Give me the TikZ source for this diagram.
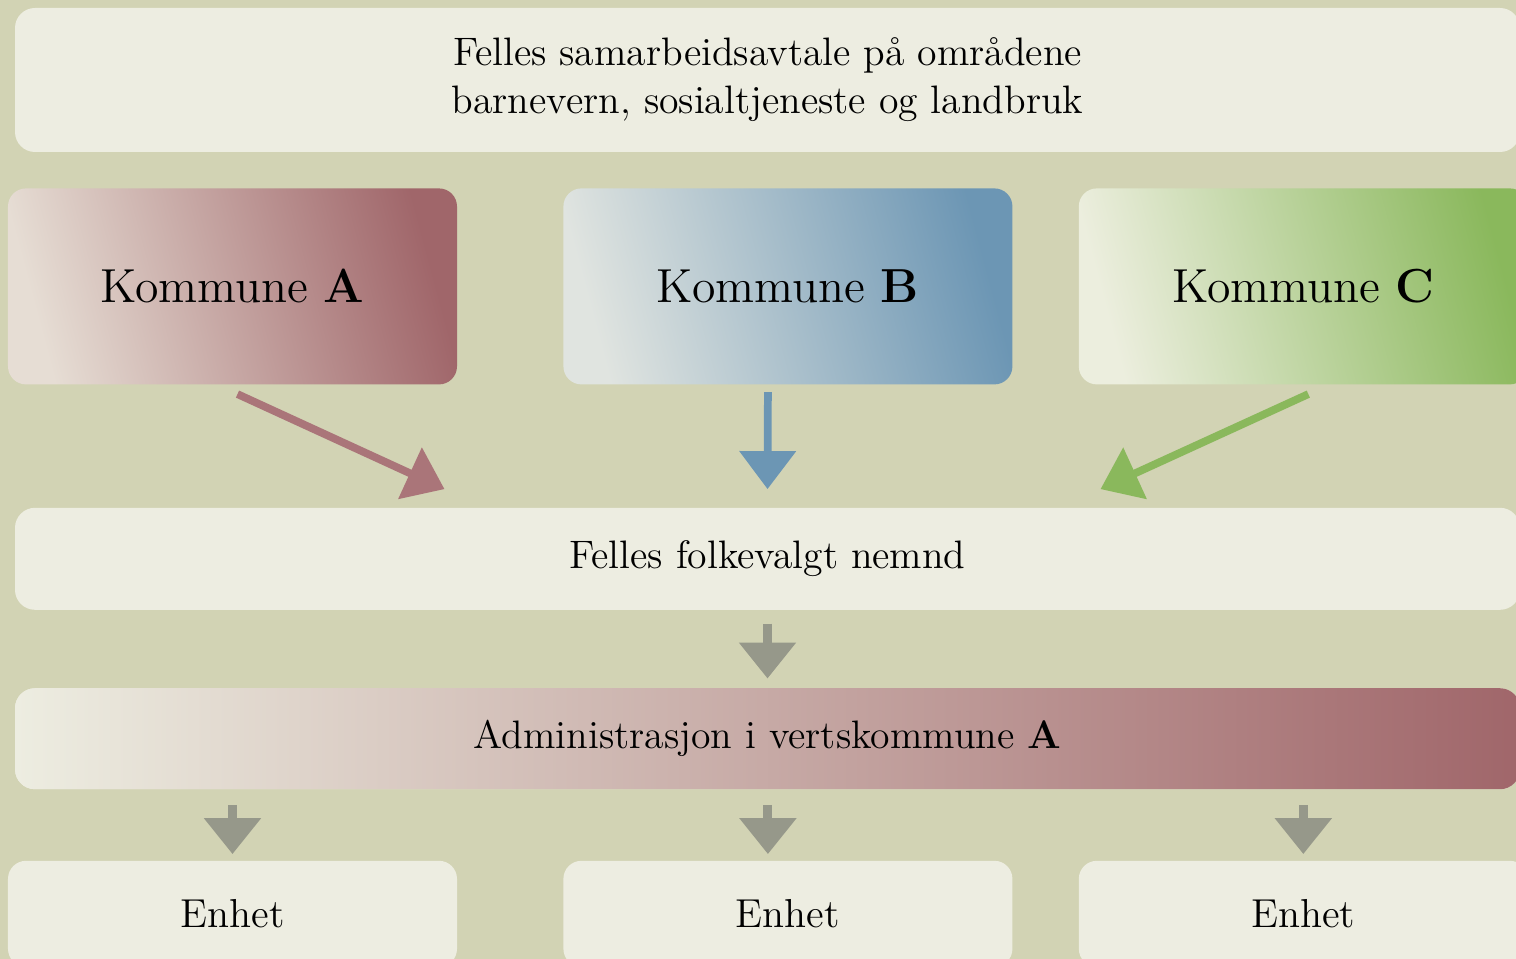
\documentclass[tikz,border=0pt]{standalone}
\usepackage{tikz}
\usetikzlibrary{arrows.meta,positioning,calc}
\definecolor{kpaper}{RGB}{210,211,180}
\definecolor{kcream}{RGB}{237,237,225}
\definecolor{kred}{RGB}{160,102,106}
\definecolor{kredlight}{RGB}{230,221,212}
\definecolor{kblue}{RGB}{108,150,180}
\definecolor{kbluelight}{RGB}{224,228,224}
\definecolor{kgreen}{RGB}{138,184,92}
\definecolor{kgreenlight}{RGB}{236,238,222}
\definecolor{kgrey}{RGB}{150,152,138}
\tikzstyle{bar} = [rectangle, rounded corners=0.2cm, minimum width=15.05cm, text centered, fill=kcream, font=\fontsize{11.3}{13.7}\selectfont]
\tikzstyle{kbox} = [rectangle, rounded corners=0.18cm, minimum width=4.49cm, minimum height=1.96cm, text centered, font=\fontsize{13.6}{16}\selectfont]
\tikzstyle{ebox} = [rectangle, rounded corners=0.18cm, minimum width=4.49cm, minimum height=1.06cm, text centered, fill=kcream, font=\fontsize{11.5}{13.7}\selectfont]
\tikzstyle{pil} = [line width=2.2pt, -{Triangle[width=0.55cm,length=0.38cm]}]
\tikzstyle{pilgrey} = [line width=2.6pt, color=kgrey, -{Triangle[width=0.55cm,length=0.36cm]}]

\begin{document}
\begin{tikzpicture}[node distance=0.5cm]
\useasboundingbox (0,0) rectangle (15.16,-9.59);
\clip (0,0) rectangle (15.16,-9.59);
\fill[kpaper] (0,0) rectangle (15.16,-9.59);

% Avtale
\node[bar, minimum height=1.44cm, align=center] (avtale) at (7.675,-0.80) {
Felles samarbeidsavtale på områdene\\
barnevern, sosialtjeneste og landbruk
};

% Kommuner
\node[kbox, left color=kredlight, right color=kred, shading angle=105, below right=0.35cm and -0.07cm of avtale.south west] (kA) {Kommune \textbf{A}};
\node[kbox, left color=kbluelight, right color=kblue, shading angle=105, right=1.05cm of kA] (kB) {Kommune \textbf{B}};
\node[kbox, left color=kgreenlight, right color=kgreen, shading angle=105, right=0.65cm of kB] (kC) {Kommune \textbf{C}};

% Nemnd og administrasjon
\node[bar, minimum height=1.02cm, below right=1.22cm and 0.07cm of kA.south west] (nemnd) {Felles folkevalgt nemnd};
\node[bar, minimum height=1.01cm, left color=kcream, right color=kred, below=0.77cm of nemnd] (admin) {Administrasjon i vertskommune \textbf{A}};

% Enheter
\node[ebox, below=4.75cm of kA] (eA) {Enhet};
\node[ebox, below=4.75cm of kB] (eB) {Enhet};
\node[ebox, below=4.75cm of kC] (eC) {Enhet};

\draw[pil, color=kred!90!white] ([xshift=0.05cm,yshift=-0.09cm]kA.south) -- ([xshift=-3.23cm,yshift=0.18cm]nemnd.north);
\draw[pil, color=kblue] ([xshift=-0.2cm,yshift=-0.07cm]kB.south) -- ([yshift=0.18cm]nemnd.north);
\draw[pil, color=kgreen] ([xshift=0.05cm,yshift=-0.09cm]kC.south) -- ([xshift=3.33cm,yshift=0.18cm]nemnd.north);
\draw[pilgrey] ([yshift=-0.13cm]nemnd.south) -- ([yshift=0.09cm]admin.north);
\draw[pilgrey] ($(admin.south -| eA.north)+(0,-0.15)$) -- ($(eA.north)+(0,0.06)$);
\draw[pilgrey] ($(admin.south -| eB.north)+(-0.2,-0.15)$) -- ($(eB.north)+(-0.2,0.06)$);
\draw[pilgrey] ($(admin.south -| eC.north)+(0,-0.15)$) -- ($(eC.north)+(0,0.06)$);
\end{tikzpicture}
\end{document}
